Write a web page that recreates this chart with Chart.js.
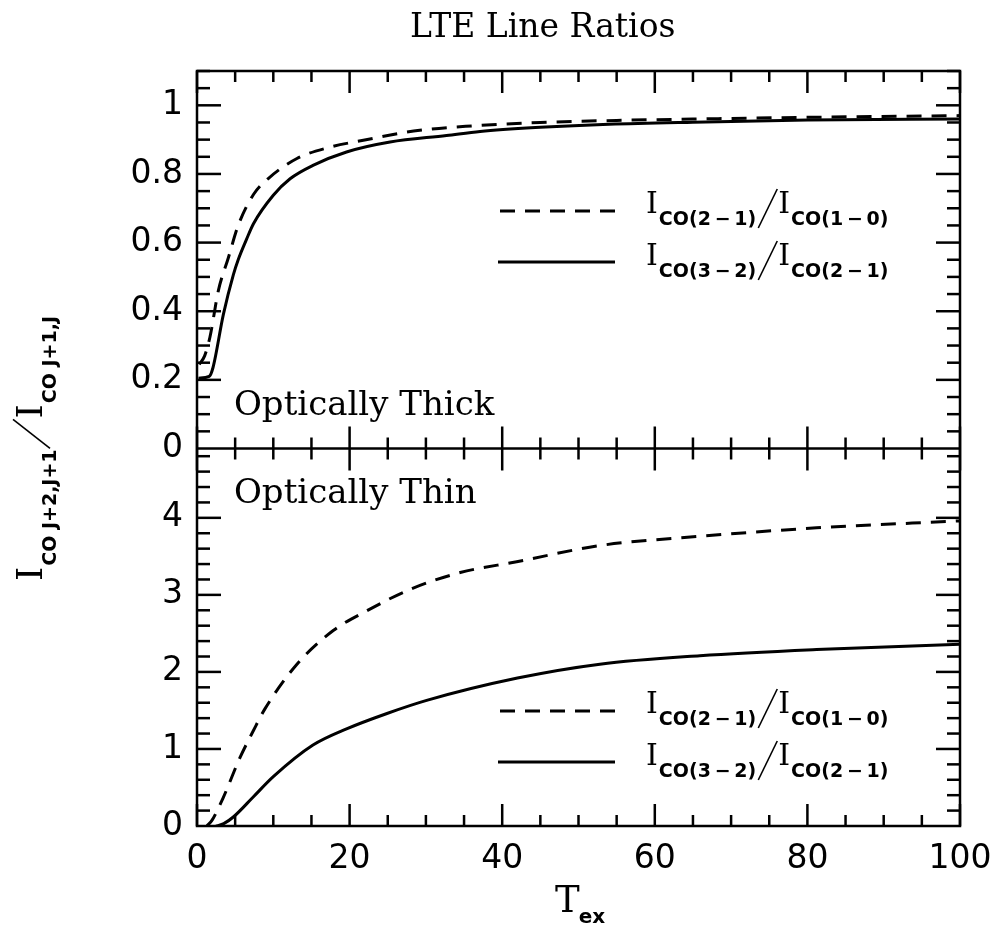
<!DOCTYPE html>
<html>
<head>
<meta charset="utf-8">
<script src="https://cdn.jsdelivr.net/npm/chart.js@4"></script>
<style>
  body { margin: 0; background: #fff; }
  #razoes { display: block; }
</style>
</head>
<body>
<canvas id="razoes" width="992" height="932"></canvas>
<script>
// Optically thick panel
const thickTex21 = [0.3, 1.0, 1.7, 2.8, 4.1, 5.4, 7.4, 9.3, 13.1, 17.4, 21.8, 28.4, 36, 45, 55, 65, 80, 100]
const thickRatio21 = [0.245, 0.27, 0.325, 0.46, 0.555, 0.65, 0.74, 0.786, 0.845, 0.878, 0.898, 0.925, 0.940, 0.950, 0.956, 0.960, 0.965, 0.970]
const thickTex32 = [0.2, 1.6, 2.1, 3.45, 4.76, 5.4, 6.5, 7.4, 10, 12.2, 15.2, 19.6, 25.3, 32.7, 37.1, 45, 54, 65, 80, 100]
const thickRatio32 = [0.205, 0.21, 0.236, 0.39, 0.506, 0.55, 0.61, 0.655, 0.738, 0.786, 0.825, 0.864, 0.893, 0.912, 0.924, 0.936, 0.945, 0.951, 0.957, 0.960]

// Optically thin panel
const thinTex21 = [1.3, 2.0, 3.4, 5.6, 7.4, 8.9, 13.1, 17.9, 22.2, 27.9, 34.5, 41.9, 52.8, 65.9, 81.2, 100]
const thinRatio21 = [0.0, 0.08, 0.36, 0.88, 1.24, 1.52, 2.10, 2.54, 2.79, 3.07, 3.29, 3.43, 3.64, 3.76, 3.87, 3.96]
const thinTex32 = [2.5, 3.5, 4.8, 7.4, 10, 15.2, 19.6, 24.9, 30.1, 42, 52.8, 65.9, 81.2, 100]
const thinRatio32 = [0.0, 0.03, 0.12, 0.38, 0.64, 1.05, 1.26, 1.46, 1.63, 1.92, 2.10, 2.21, 2.29, 2.36]

const texTicks = [0, 20, 40, 60, 80, 100]
const thickTicks = [0, 0.2, 0.4, 0.6, 0.8, 1]
const thinTicks = [0, 1, 2, 3, 4]

const pares = (xs, ys) => xs.map((x, i) => ({ x: x, y: ys[i] }))

const serif = '"DejaVu Serif", serif'
const sans = '"DejaVu Sans", sans-serif'
const fonteGrande = `30px ${serif}`
const fonteSub = `bold 19px ${sans}`

// writes a run of text pieces one after another (used for subscripts);
// a piece with `barra` is a thin slanted stroke instead of text
const escreve = (ctx, x, y, partes, angulo) => {
  ctx.save()
  ctx.translate(x, y)
  if (angulo) ctx.rotate(angulo)
  ctx.textAlign = 'left'
  ctx.textBaseline = 'alphabetic'
  let cx = 0
  for (const p of partes) {
    cx += p.dx || 0
    if (p.barra) {
      const [w, cima, baixo] = p.barra
      ctx.lineWidth = 1.6
      ctx.setLineDash([])
      ctx.beginPath()
      ctx.moveTo(cx, baixo)
      ctx.lineTo(cx + w, cima)
      ctx.stroke()
      cx += w
      continue
    }
    ctx.font = p.font
    ctx.fillText(p.text, cx, p.dy || 0)
    cx += ctx.measureText(p.text).width
  }
  ctx.restore()
}

const razao = (a, b) => [
  { text: 'I', font: fonteGrande },
  { text: `CO(${a})`, font: fonteSub, dy: 12, dx: 1 },
  { barra: [19, -24, 15], dx: 2 },
  { text: 'I', font: fonteGrande, dx: 1 },
  { text: `CO(${b})`, font: fonteSub, dy: 12, dx: 1 },
]

const linha = (ctx, x1, y1, x2, y2) => {
  ctx.beginPath()
  ctx.moveTo(x1, y1)
  ctx.lineTo(x2, y2)
  ctx.stroke()
}

const legenda = (ctx, y) => {
  ctx.lineWidth = 3
  ctx.setLineDash([15, 10])
  linha(ctx, 500, y - 2, 615, y - 2)
  ctx.setLineDash([])
  linha(ctx, 498, y + 49, 615, y + 49)
  escreve(ctx, 646, y, razao('2\u2009−\u20091', '1\u2009−\u20090'))
  escreve(ctx, 646, y + 52, razao('3\u2009−\u20092', '2\u2009−\u20091'))
}

const molduraPlugin = {
  id: 'moldura',
  afterDatasetsDraw(chart) {
    const { ctx, chartArea: a, scales } = chart
    const sx = scales.x, yt = scales.yThick, yb = scales.yThin
    const meio = yt.bottom
    ctx.save()
    ctx.strokeStyle = '#000'
    ctx.fillStyle = '#000'
    ctx.lineWidth = 2.5
    ctx.strokeRect(a.left, a.top, a.right - a.left, a.bottom - a.top)
    linha(ctx, a.left, meio, a.right, meio)

    // ticks on the T axis: top, middle (both sides) and bottom
    for (let i = 0; i <= 20; i++) {
      const px = sx.getPixelForValue(i * 5)
      const len = i % 4 === 0 ? 22 : 11
      linha(ctx, px, a.top, px, a.top + len)
      linha(ctx, px, meio - len, px, meio + len)
      linha(ctx, px, a.bottom - len, px, a.bottom)
    }
    // ticks on the ratio axes, left and right
    for (let i = 1; i <= 22; i++) {
      const py = yt.getPixelForValue(i * 0.05)
      const len = i % 4 === 0 ? 24 : 13
      linha(ctx, a.left, py, a.left + len, py)
      linha(ctx, a.right - len, py, a.right, py)
    }
    for (let i = 1; i <= 24; i++) {
      const py = yb.getPixelForValue(i * 0.2)
      const len = i % 5 === 0 ? 24 : 13
      linha(ctx, a.left, py, a.left + len, py)
      linha(ctx, a.right - len, py, a.right, py)
    }

    ctx.textAlign = 'left'
    ctx.textBaseline = 'alphabetic'
    ctx.font = `33px ${serif}`
    ctx.fillText('LTE Line Ratios', 410, 37)
    ctx.font = `34px ${serif}`
    ctx.fillText('Optically Thick', 234, 415)
    ctx.fillText('Optically Thin', 234, 503)

    legenda(ctx, 213)
    legenda(ctx, 713)

    // axis titles
    escreve(ctx, 555, 912, [
      { text: 'T', font: `37px ${serif}` },
      { text: 'ex', font: `bold 20px ${sans}`, dy: 11, dx: -1 },
    ])
    escreve(ctx, 42, 581, [
      { text: 'I', font: `36px ${serif}` },
      { text: 'CO J+2,J+1', font: fonteSub, dy: 14, dx: 1 },
      { barra: [29, -29, 8], dx: 1 },
      { text: 'I', font: `36px ${serif}`, dx: 1 },
      { text: 'CO J+1,J', font: fonteSub, dy: 14, dx: 1 },
    ], -Math.PI / 2)
    ctx.restore()
  }
}

const curva = (dados, eixo, tracejado) => ({
  data: dados,
  yAxisID: eixo,
  borderColor: '#000',
  borderWidth: 3,
  borderDash: tracejado ? [15, 10] : [],
  pointRadius: 0,
  cubicInterpolationMode: 'monotone',
  fill: false,
})

const eixoY = (min, max, marcas) => ({
  type: 'linear',
  position: 'left',
  stack: 'paineis',
  stackWeight: 1,
  min: min,
  max: max,
  grid: { display: false, drawTicks: false },
  border: { display: false },
  afterBuildTicks: s => { s.ticks = marcas.map(v => ({ value: v })) },
  afterFit: s => { s.width = 197 },
  ticks: {
    color: '#000',
    padding: 14,
    font: { family: 'DejaVu Sans', size: 33 },
    callback: v => String(+v.toFixed(2)),
  },
})

let grafico = new Chart(document.getElementById('razoes'), {
  type: 'line',
  data: {
    datasets: [
      curva(pares(thickTex21, thickRatio21), 'yThick', true),
      curva(pares(thickTex32, thickRatio32), 'yThick', false),
      curva(pares(thinTex21, thinRatio21), 'yThin', true),
      curva(pares(thinTex32, thinRatio32), 'yThin', false),
    ]
  },
  options: {
    responsive: false,
    animation: false,
    devicePixelRatio: 1,
    layout: { padding: { top: 71, right: 32, left: 0, bottom: 0 } },
    plugins: { legend: { display: false }, tooltip: { enabled: false } },
    scales: {
      x: {
        type: 'linear',
        min: 0,
        max: 100,
        grid: { display: false, drawTicks: false },
        border: { display: false },
        afterBuildTicks: s => { s.ticks = texTicks.map(v => ({ value: v })) },
        afterFit: s => { s.height = 106; s.paddingLeft = 0; s.paddingRight = 0 },
        ticks: {
          color: '#000',
          padding: 14,
          maxRotation: 0,
          font: { family: 'DejaVu Sans', size: 33 },
        },
      },
      yThin: eixoY(0, 4.9, thinTicks),
      yThick: eixoY(0, 1.1, thickTicks),
    }
  },
  plugins: [molduraPlugin],
})
</script>
</body>
</html>
